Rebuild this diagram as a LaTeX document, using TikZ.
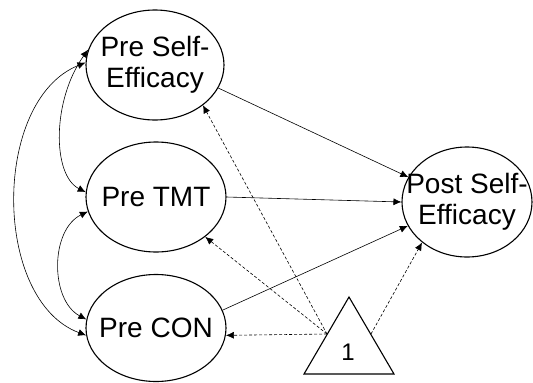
\documentclass[tikz,border=0pt]{standalone}
\usepackage{fontspec}
\setmainfont{Liberation Sans}
\usetikzlibrary{shapes.geometric,arrows.meta}
\begin{document}
\begin{tikzpicture}[x=1pt,y=-1pt,
  latent/.style={draw,ellipse,line width=1.1pt,inner sep=0pt},
  lbl/.style={align=center,inner sep=0pt,font=\fontsize{28}{31}\selectfont},
  path/.style={line width=0.6pt,-{Latex[length=8pt,width=7pt]}},
  mean/.style={path,dashed,dash pattern=on 3pt off 2pt},
  cov/.style={line width=0.6pt,{Latex[length=8pt,width=7pt]}-{Latex[length=8pt,width=7pt]}}]
\useasboundingbox (0,0) rectangle (533,383);
\node[latent,minimum width=138pt,minimum height=110pt,label={[lbl]center:Pre Self-\\Efficacy}] (pse) at (155,65) {};
\node[latent,minimum width=140pt,minimum height=110pt,label={[lbl]center:Pre TMT}] (ptmt) at (156,197) {};
\node[latent,minimum width=140pt,minimum height=107pt,label={[lbl]center:Pre CON}] (pcon) at (156,328) {};
\node[latent,minimum width=130pt,minimum height=110pt,label={[lbl]center:Post Self-\\Efficacy}] (post) at (467,202) {};
% triangle
\coordinate (ta) at (349,297);
\coordinate (tbl) at (304,374);
\coordinate (tbr) at (394,374);
\draw[line width=1.1pt,line join=miter] (ta) -- (tbl) -- (tbr) -- cycle;
\node[font=\fontsize{24}{28}\selectfont] (one) at (348,352) {1};
\coordinate (tl) at (327,334);
\coordinate (tr) at (371,334);
% regressions
\draw[path] (pse.-20) -- (post.157);
\draw[path] (ptmt.0) -- (post.180);
\draw[path] (pcon.15) -- (post.202);
% means
\draw[mean] (tl) -- (pse.-40);
\draw[mean] (tl) -- (ptmt.-39);
\draw[mean] (tl) -- (pcon.-6);
\draw[mean] (tr) -- (post.222);
% covariances
\draw[cov] (pse.178) .. controls (-8,100) and (-8,300) .. (pcon.-174);
\draw[cov] (pse.167) .. controls (52,100) and (52,175) .. (ptmt.176);
\draw[cov] (ptmt.-168) .. controls (50,230) and (50,300) .. (pcon.173);
\end{tikzpicture}
\end{document}
